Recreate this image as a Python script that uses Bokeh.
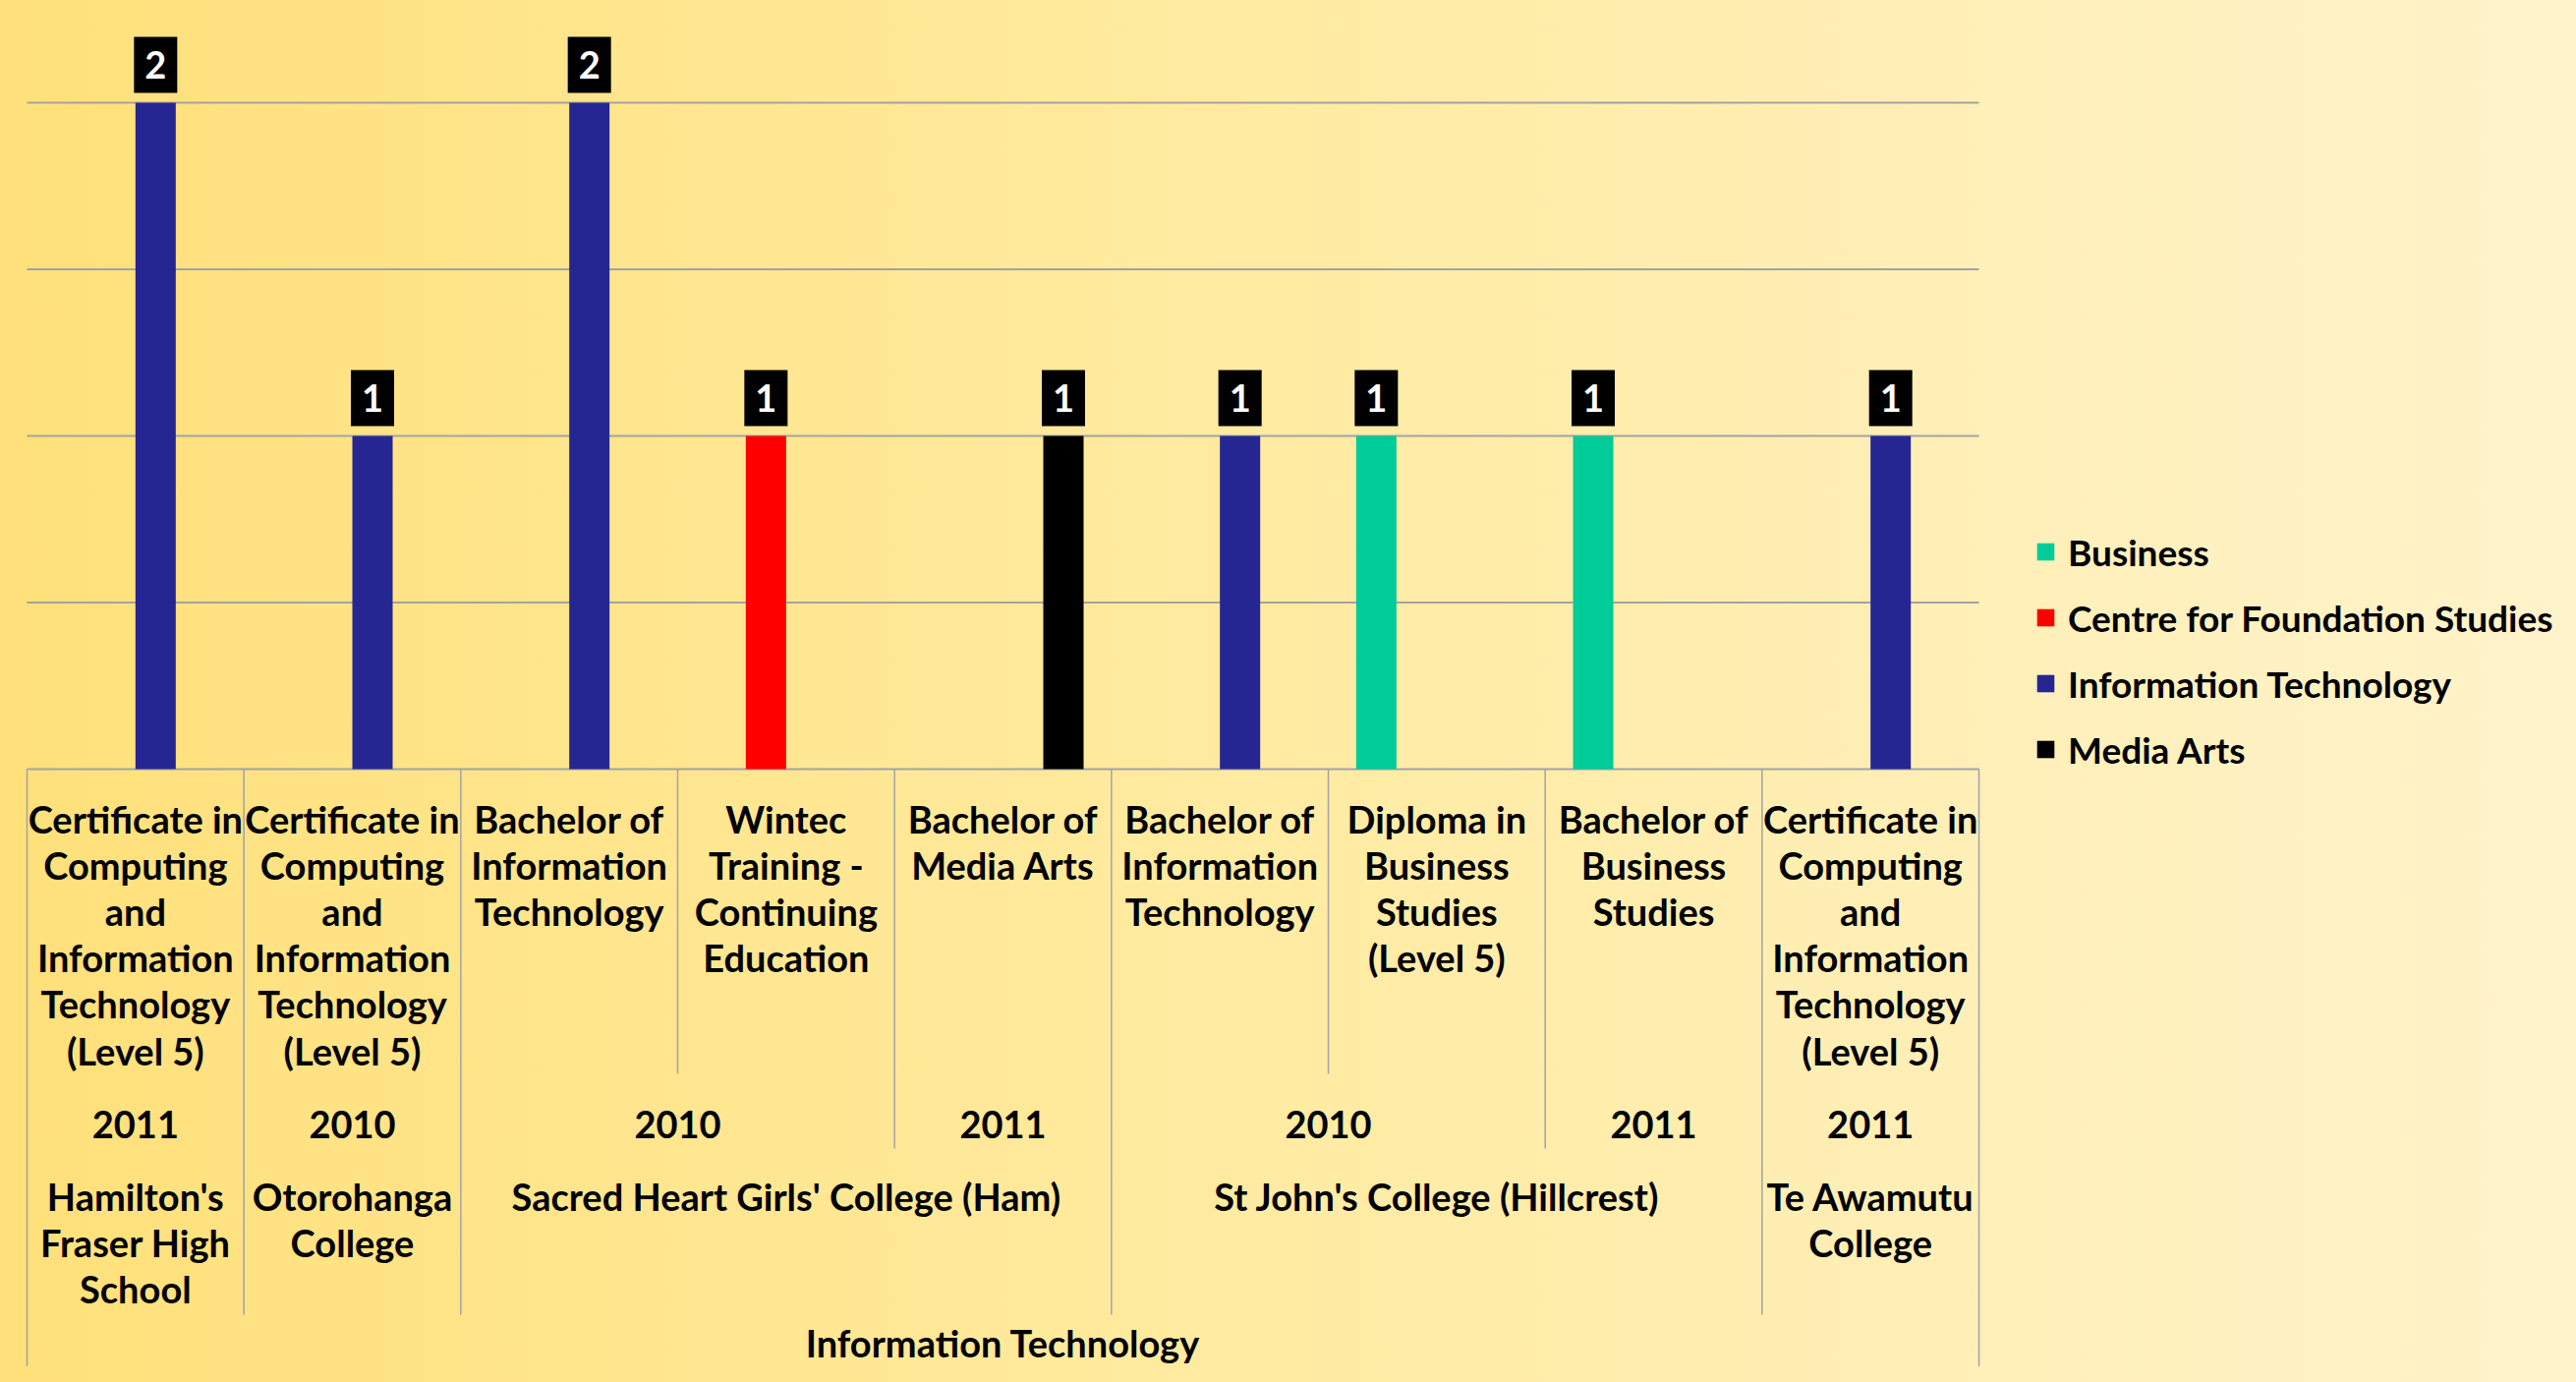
from bokeh.plotting import figure
from bokeh.models import Range1d, Legend, LegendItem
from bokeh.core.properties import value
from bokeh.embed import file_html
from bokeh.resources import INLINE

# ---------------- data ----------------
programs = [
    "Certificate in\nComputing\nand\nInformation\nTechnology\n(Level 5)",
    "Certificate in\nComputing\nand\nInformation\nTechnology\n(Level 5)",
    "Bachelor of\nInformation\nTechnology",
    "Wintec\nTraining -\nContinuing\nEducation",
    "Bachelor of\nMedia Arts",
    "Bachelor of\nInformation\nTechnology",
    "Diploma in\nBusiness\nStudies\n(Level 5)",
    "Bachelor of\nBusiness\nStudies",
    "Certificate in\nComputing\nand\nInformation\nTechnology\n(Level 5)",
]
years = ["2011", "2010", "2010", "2010", "2011", "2010", "2010", "2011", "2011"]
schools = [
    "Hamilton's\nFraser High\nSchool",
    "Otorohanga\nCollege",
    "Sacred Heart Girls' College (Ham)",
    "Sacred Heart Girls' College (Ham)",
    "Sacred Heart Girls' College (Ham)",
    "St John's College (Hillcrest)",
    "St John's College (Hillcrest)",
    "St John's College (Hillcrest)",
    "Te Awamutu\nCollege",
]
top_group = "Information Technology"

series_names = ["Business", "Centre for Foundation Studies", "Information Technology", "Media Arts"]
series_colors = ["#00CC99", "#FF0000", "#262693", "#000000"]
business = [0, 0, 0, 0, 0, 0, 1, 1, 0]
centre = [0, 0, 0, 1, 0, 0, 0, 0, 0]
info_tech = [2, 1, 2, 0, 0, 1, 0, 0, 1]
media_arts = [0, 0, 0, 0, 1, 0, 0, 0, 0]
series_values = [business, centre, info_tech, media_arts]
grid_ticks = [0.5, 1.0, 1.5, 2.0]

# ---------------- layout ----------------
W, H = 2605, 1390
X0 = 27.0          # px: left edge of first category
CAT_W = 220.67     # px per category
Y0 = 782.0         # px from top: value 0
PX = 339.0         # px per value unit
SLOT = 41.0 / CAT_W
FONT_NAME = "Lato"
FONT = value(FONT_NAME)
FS = "38px"
LEGEND_FS = "37px"
LINE_PX = 47.2
GRID_COLOR = "#A3A3A3"

n = len(programs)

p = figure(width=W, height=H, output_backend="svg", toolbar_location=None,
           min_border=0, x_axis_location=None, y_axis_location=None,
           x_range=Range1d(-X0 / CAT_W, (W - X0) / CAT_W),
           y_range=Range1d(-(H - Y0) / PX, Y0 / PX))
p.grid.grid_line_color = None
p.outline_line_color = None
p.background_fill_alpha = 0
p.border_fill_alpha = 0

def dy(px):
    return -px / PX

# gridlines
p.segment(x0=[0] * len(grid_ticks), x1=[n] * len(grid_ticks), y0=grid_ticks, y1=grid_ticks,
          line_color=GRID_COLOR, line_width=2)
# category axis line
p.segment(x0=[0], x1=[n], y0=[0], y1=[0], line_color=GRID_COLOR, line_width=2)

# separators of the multi-level category axis
sx, sy1 = [], []
for b in range(n + 1):
    if b == 0 or b == n:
        depth = H - Y0
    elif schools[b] != schools[b - 1]:
        depth = 555
    elif years[b] != years[b - 1]:
        depth = 386
    else:
        depth = 310
    sx.append(b)
    sy1.append(dy(depth))
p.segment(x0=sx, x1=sx, y0=[0] * len(sx), y1=sy1, line_color=GRID_COLOR, line_width=1.5)

# bars
legend_items = []
lab_x, lab_y, lab_t = [], [], []
for k, (name, vals, color) in enumerate(zip(series_names, series_values, series_colors)):
    xs = [i + 0.5 + (k - 1.5) * SLOT for i, v in enumerate(vals) if v]
    ts = [v for v in vals if v]
    r = p.vbar(x=xs, top=ts, bottom=0, width=SLOT, fill_color=color, line_color=None)
    legend_items.append(LegendItem(label=name, renderers=[r]))
    lab_x += xs
    lab_y += [t + 38.5 / PX for t in ts]
    lab_t += [str(t) for t in ts]

# data labels (black boxes with white numbers)
p.rect(x=lab_x, y=lab_y, width=44, height=57, width_units="screen", height_units="screen",
       fill_color="black", line_color=None)
p.text(x=lab_x, y=lab_y, text=lab_t, text_color="white", text_font=FONT, text_font_style="bold",
       text_font_size=FS, text_align="center", text_baseline="middle")

# category labels
def lines_source(labels, xs, first_center_px):
    lx, ly, lt = [], [], []
    for lab, x in zip(labels, xs):
        for j, line in enumerate(lab.split("\n")):
            lx.append(x)
            ly.append(dy(first_center_px + j * LINE_PX))
            lt.append(line)
    return dict(x=lx, y=ly, t=lt)

def runs(keys):
    out = []
    start = 0
    for i in range(1, n + 1):
        if i == n or keys[i] != keys[start]:
            out.append((start, i))
            start = i
    return out

prog_src = lines_source(programs, [i + 0.5 for i in range(n)], 50)
year_runs = runs(list(zip(schools, years)))
year_src = lines_source([years[a] for a, b in year_runs], [(a + b) / 2 for a, b in year_runs], 361)
school_runs = runs(schools)
school_src = lines_source([schools[a] for a, b in school_runs], [(a + b) / 2 for a, b in school_runs], 434)
top_src = lines_source([top_group], [n / 2], 583)

for src in (prog_src, year_src, school_src, top_src):
    p.text(x=src["x"], y=src["y"], text=src["t"], text_color="black", text_font=FONT,
           text_font_style="bold", text_font_size=FS, text_align="center", text_baseline="middle")

legend = Legend(items=legend_items, location=(2070, 605), orientation="vertical",
                glyph_width=22, glyph_height=22, label_standoff=12, spacing=21,
                padding=0, margin=0, border_line_alpha=0, background_fill_alpha=0,
                label_text_font=FONT_NAME, label_text_font_style="bold", label_text_font_size=LEGEND_FS,
                label_text_color="black", label_height=46)
p.add_layout(legend)

html = file_html(p, INLINE, title="Programmes by school")
html = html.replace("</head>", "<style>html{background:linear-gradient(to right,#FFE07A 0%,#FFEBA2 50%,#FFF3CB 100%);}</style></head>", 1)
open("out.html", "w").write(html)
